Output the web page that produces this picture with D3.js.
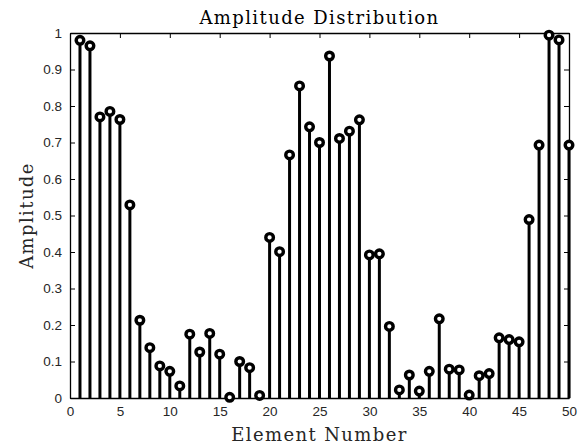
<!DOCTYPE html>
<html>
<head>
<meta charset="utf-8">
<script src="https://cdn.jsdelivr.net/npm/d3@7"></script>
<style>
  body { margin: 0; background: #fff; }
  svg { display: block; }
</style>
</head>
<body>
<svg width="584" height="447"></svg>
<script>
// element numbers 1..50 and their amplitudes
const elements = d3.range(1, 51);
const amplitudes = [
  0.980, 0.965, 0.770, 0.785, 0.763, 0.529, 0.213, 0.138, 0.088, 0.073,
  0.033, 0.175, 0.126, 0.177, 0.120, 0.002, 0.100, 0.083, 0.007, 0.440,
  0.401, 0.666, 0.855, 0.743, 0.700, 0.937, 0.711, 0.731, 0.762, 0.392,
  0.395, 0.196, 0.022, 0.063, 0.019, 0.073, 0.217, 0.079, 0.077, 0.008,
  0.061, 0.067, 0.165, 0.160, 0.154, 0.489, 0.693, 0.994, 0.981, 0.693
];
const xTicks = [0, 5, 10, 15, 20, 25, 30, 35, 40, 45, 50];
const yTicks = [0, 0.1, 0.2, 0.3, 0.4, 0.5, 0.6, 0.7, 0.8, 0.9, 1];

const svg = d3.select('svg');
const padL = 70, padR = 569, padT = 33, padB = 398;

const xScale = d3.scaleLinear().domain([0, 50]).range([padL, padR]);
const yScale = d3.scaleLinear().domain([0, 1]).range([padB, padT]);

const data = elements.map((e, i) => [e, amplitudes[i]]);

// axes - ticks point inward like matlab
const fmtY = d => d === 0 ? '0' : d === 1 ? '1' : d3.format('.1f')(d);

const xAxis = d3.axisBottom(xScale).tickValues(xTicks).tickSizeInner(-5).tickSizeOuter(0).tickPadding(8);
const yAxis = d3.axisLeft(yScale).tickValues(yTicks).tickSizeInner(-5).tickSizeOuter(0).tickPadding(8).tickFormat(fmtY);
const xTop = d3.axisTop(xScale).tickValues(xTicks).tickSizeInner(-5).tickSizeOuter(0).tickFormat('');
const yRight = d3.axisRight(yScale).tickValues(yTicks).tickSizeInner(-5).tickSizeOuter(0).tickFormat('');

const styleAxis = g => {
  g.selectAll('path').attr('stroke', '#000').attr('stroke-width', 1.3);
  g.selectAll('line').attr('stroke', '#000').attr('stroke-width', 1);
  g.selectAll('text').attr('fill', '#262626')
    .style('font-family', 'Liberation Sans, Arial, sans-serif').style('font-size', '13.5px');
};

svg.append('g').attr('transform', 'translate(0,' + padB + ')').call(xAxis).call(styleAxis);
svg.append('g').attr('transform', 'translate(' + padL + ',0)').call(yAxis).call(styleAxis);
svg.append('g').attr('transform', 'translate(0,' + padT + ')').call(xTop).call(styleAxis);
svg.append('g').attr('transform', 'translate(' + padR + ',0)').call(yRight).call(styleAxis);

// stems
svg.append('g').selectAll('line')
  .data(data)
  .enter()
  .append('line')
    .attr('x1', d => xScale(d[0]))
    .attr('x2', d => xScale(d[0]))
    .attr('y1', yScale(0))
    .attr('y2', d => yScale(d[1]))
    .attr('stroke', '#000')
    .attr('stroke-width', 3);

// markers
svg.append('g').selectAll('circle')
  .data(data)
  .enter()
  .append('circle')
    .attr('cx', d => xScale(d[0]))
    .attr('cy', d => yScale(d[1]))
    .attr('r', 3.8)
    .attr('fill', '#fff')
    .attr('stroke', '#000')
    .attr('stroke-width', 3.4);

// labels - wide serif, spaced out a little
const serif = 'DejaVu Serif, serif';
svg.append('text')
  .attr('x', (padL + padR) / 2).attr('y', 24)
  .attr('text-anchor', 'middle')
  .style('font-family', serif).style('font-size', '18px').style('letter-spacing', '1.4px')
  .attr('fill', '#000')
  .text('Amplitude Distribution');

svg.append('text')
  .attr('x', (padL + padR) / 2).attr('y', 441)
  .attr('text-anchor', 'middle')
  .style('font-family', serif).style('font-size', '18px').style('letter-spacing', '1.4px')
  .attr('fill', '#262626')
  .text('Element Number');

svg.append('text')
  .attr('transform', 'translate(33,' + ((padT + padB) / 2) + ') rotate(-90)')
  .attr('text-anchor', 'middle')
  .style('font-family', serif).style('font-size', '18px').style('letter-spacing', '1.4px')
  .attr('fill', '#262626')
  .text('Amplitude');
</script>
</body>
</html>
